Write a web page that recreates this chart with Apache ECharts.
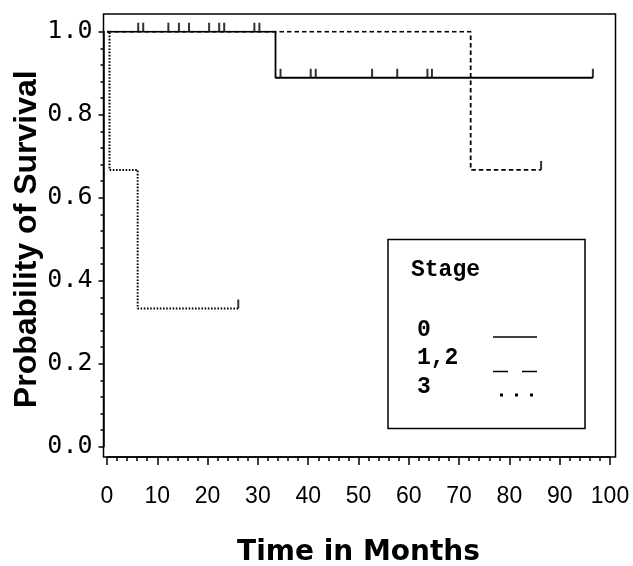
<!DOCTYPE html>
<html>
<head>
<meta charset="utf-8">
<script src="https://cdn.jsdelivr.net/npm/echarts@6/dist/echarts.min.js"></script>
<style>
  html, body { margin: 0; padding: 0; background: #fff; }
  #chart { width: 633px; height: 566px; }
</style>
</head>
<body>
<div id="chart"></div>
<script>
// Kaplan-Meier curves by stage
var stageNames = ['0', '1,2', '3'];

var stage0Time = [0, 33.5, 96.6];
var stage0Surv = [1, 0.889, 0.889];
var stage0CensorTime = [6.2, 7.2, 12.2, 14.3, 16.3, 20.3, 22.3, 23.3, 29.3, 30.3,
                        34.5, 40.5, 41.5, 52.7, 57.7, 63.7, 64.6, 96.6];
var stage0CensorSurv = [1, 1, 1, 1, 1, 1, 1, 1, 1, 1,
                        0.889, 0.889, 0.889, 0.889, 0.889, 0.889, 0.889, 0.889];

var stage12Time = [0, 72.3, 86.3];
var stage12Surv = [1, 0.667, 0.667];
var stage12CensorTime = [86.3];
var stage12CensorSurv = [0.667];

var stage3Time = [0, 0.5, 6.1, 26.1];
var stage3Surv = [1, 0.667, 0.333, 0.333];
var stage3CensorTime = [26.1];
var stage3CensorSurv = [0.333];

var xTicks = [0, 10, 20, 30, 40, 50, 60, 70, 80, 90, 100];
var yTicks = [0, 0.2, 0.4, 0.6, 0.8, 1.0];

function pairs(xs, ys) {
    var out = [];
    for (var i = 0; i < xs.length; i++) out.push([xs[i], ys[i]]);
    return out;
}

var lineTypes = ['solid', [4.5, 3], [1.6, 1.6]];
var curves = [pairs(stage0Time, stage0Surv), pairs(stage12Time, stage12Surv), pairs(stage3Time, stage3Surv)];
var censors = [pairs(stage0CensorTime, stage0CensorSurv), pairs(stage12CensorTime, stage12CensorSurv),
               pairs(stage3CensorTime, stage3CensorSurv)];

var series = [];
for (let i = 0; i < curves.length; i++) {
    series.push({
        name: stageNames[i],
        type: 'line',
        step: 'end',
        data: curves[i],
        symbol: 'none',
        silent: true,
        lineStyle: { color: '#000', width: i == 2 ? 2 : 1.8, type: lineTypes[i] },
        z: 3 - i
    });
    series.push({
        name: stageNames[i],
        type: 'scatter',
        data: censors[i],
        symbol: 'rect',
        symbolSize: [2, 9],
        symbolOffset: [0, -4.5],
        itemStyle: { color: '#000' },
        silent: true,
        z: 4
    });
}

// legend box
var legendY = [330, 358, 387];
var sampleY = [337, 371.5, 395];
var graphics = [
    { type: 'rect', shape: { x: 388, y: 239.5, width: 197, height: 189 },
      style: { fill: '#fff', stroke: '#000', lineWidth: 1.5 }, z: 10 },
    { type: 'text', x: 411, y: 270, z: 11,
      style: { text: 'Stage', fill: '#000', font: 'bold 23px "Liberation Mono"', textVerticalAlign: 'middle' } }
];
var sampleDash = [null, [15, 14], [3, 12]];
for (let i = 0; i < stageNames.length; i++) {
    graphics.push({ type: 'text', x: 417, y: legendY[i], z: 11,
        style: { text: stageNames[i], fill: '#000', font: 'bold 23px "Liberation Mono"', textVerticalAlign: 'middle' } });
    graphics.push({ type: 'line', z: 11,
        shape: { x1: i == 2 ? 500 : 493, y1: sampleY[i], x2: 537, y2: sampleY[i] },
        style: { stroke: '#000', lineWidth: i == 2 ? 3 : 1.5, lineDash: sampleDash[i] } });
}

var myChart = echarts.init(document.getElementById('chart'));
var option = {
    animation: false,
    backgroundColor: '#fff',
    grid: [
        { left: 107, right: 23, top: 31.7, bottom: 119.3, outerBoundsMode: 'none', containLabel: false },
        { left: 103.5, right: 17.5, top: 14, bottom: 109, outerBoundsMode: 'none', containLabel: false,
          show: true, borderColor: '#000', borderWidth: 1.5, z: 1 }
    ],
    xAxis: [{
        type: 'value', gridIndex: 0, min: 0, max: 100, interval: 10, offset: 10.3,
        axisLine: { show: true, onZero: false, lineStyle: { color: '#000', width: 1.5 } },
        axisTick: { show: true, length: 8, lineStyle: { color: '#000', width: 1.5 } },
        minorTick: { show: true, splitNumber: 5, length: 4, lineStyle: { color: '#000', width: 1.5 } },
        splitLine: { show: false },
        axisLabel: { margin: 28, color: '#000', fontFamily: 'Liberation Sans', fontSize: 23,
            formatter: function (v) { return xTicks.indexOf(v) >= 0 ? String(v) : ''; } },
        name: 'Time in Months', nameLocation: 'middle', nameGap: 82,
        nameTextStyle: { color: '#000', fontFamily: 'DejaVu Sans', fontWeight: 'bold', fontSize: 28 }
    }, {
        type: 'value', gridIndex: 1, show: false
    }],
    yAxis: [{
        type: 'value', gridIndex: 0, min: 0, max: 1, interval: 0.2, offset: 3.5,
        axisLine: { show: true, onZero: false, lineStyle: { color: '#000', width: 1.5 } },
        axisTick: { show: true, length: 5, lineStyle: { color: '#000', width: 1.5 } },
        minorTick: { show: true, splitNumber: 5, length: 3, lineStyle: { color: '#000', width: 1.5 } },
        splitLine: { show: false },
        axisLabel: { margin: 11, color: '#000', fontFamily: 'DejaVu Sans Mono', fontSize: 25,
            formatter: function (v) { return v.toFixed(1); } },
        name: 'Probability of Survival', nameLocation: 'middle', nameGap: 60, nameMoveOverlap: false,
        nameTextStyle: { color: '#000', fontFamily: 'Liberation Sans', fontWeight: 'bold', fontSize: 32 }
    }, {
        type: 'value', gridIndex: 1, show: false
    }],
    series: series,
    graphic: graphics
};
myChart.setOption(option);
</script>
</body>
</html>
